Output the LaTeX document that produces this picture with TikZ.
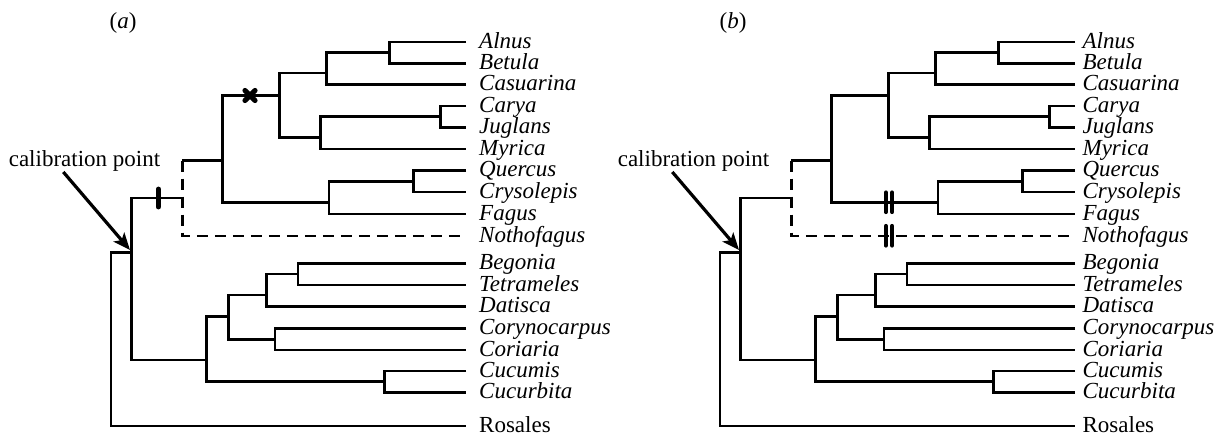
\documentclass[tikz,border=0pt]{standalone}
\usepackage{fontspec}
\setmainfont{Liberation Serif}
\usetikzlibrary{arrows.meta}

\tikzset{
  branch/.style={line width=1.4pt, line join=miter},
  lost/.style={branch, dash pattern=on 5.5pt off 3.5pt},
  taxon/.style={anchor=base west, inner sep=0pt, yshift=-3pt, xshift=6.4pt,
                font=\fontsize{11.5}{13}\selectfont\itshape},
  outgroup/.style={taxon, font=\fontsize{11.5}{13}\selectfont},
  caption/.style={anchor=base, inner sep=0pt, font=\fontsize{11.5}{13}\selectfont},
  pointer/.style={line width=1.6pt, -{Stealth[length=8.5pt, width=7pt, inset=2pt]}},
  bigbar/.style={line width=2.4pt, line cap=round},
  pairbar/.style={line width=2.1pt, line cap=round},
  crossmark/.style={line width=2.6pt, line cap=round},
}

% the common cladogram of Fagales and Cucurbitales, rooted with Rosales
\newcommand\cladetree{%
  % tips
  \coordinate (tAlnus)      at (466,42);
  \coordinate (tBetula)     at (466,63.5);
  \coordinate (tCasuarina)  at (466,84.5);
  \coordinate (tCarya)      at (466,106);
  \coordinate (tJuglans)    at (466,127.5);
  \coordinate (tMyrica)     at (466,149);
  \coordinate (tQuercus)    at (466,170.5);
  \coordinate (tCrysolepis) at (466,192);
  \coordinate (tFagus)      at (466,214);
  \coordinate (tNotho)      at (466,236);
  \coordinate (tBegonia)    at (466,263.5);
  \coordinate (tTetrameles) at (466,285);
  \coordinate (tDatisca)    at (466,306.5);
  \coordinate (tCoryno)     at (466,328.5);
  \coordinate (tCoriaria)   at (466,350);
  \coordinate (tCucumis)    at (466,371);
  \coordinate (tCucurbita)  at (466,392.5);
  \coordinate (tRosales)    at (466,426);
  % taxon names
  \node[taxon] (Alnus)      at (tAlnus) {Alnus};
  \node[taxon] (Betula)     at (tBetula) {Betula};
  \node[taxon] (Casuarina)  at (tCasuarina) {Casuarina};
  \node[taxon] (Carya)      at (tCarya) {Carya};
  \node[taxon] (Juglans)    at (tJuglans) {Juglans};
  \node[taxon] (Myrica)     at (tMyrica) {Myrica};
  \node[taxon] (Quercus)    at (tQuercus) {Quercus};
  \node[taxon] (Crysolepis) at (tCrysolepis) {Crysolepis};
  \node[taxon] (Fagus)      at (tFagus) {Fagus};
  \node[taxon] (Nothofagus) at (tNotho) {Nothofagus};
  \node[taxon] (Begonia)    at (tBegonia) {Begonia};
  \node[taxon] (Tetrameles) at (tTetrameles) {Tetrameles};
  \node[taxon] (Datisca)    at (tDatisca) {Datisca};
  \node[taxon] (Corynocarpus) at (tCoryno) {Corynocarpus};
  \node[taxon] (Coriaria)   at (tCoriaria) {Coriaria};
  \node[taxon] (Cucumis)    at (tCucumis) {Cucumis};
  \node[taxon] (Cucurbita)  at (tCucurbita) {Cucurbita};
  \node[outgroup] (Rosales) at (tRosales) {Rosales};
  % internal nodes (x = node age, y = where the parent branch joins)
  \coordinate (AB)     at (389.3,52.7);
  \coordinate (ABC)    at (326.7,73);
  \coordinate (CJ)     at (440.7,116.8);
  \coordinate (CJM)    at (320.7,137.8);
  \coordinate (core1)  at (279.3,95.5);
  \coordinate (QC)     at (413.3,181.2);
  \coordinate (QCF)    at (329,202.3);
  \coordinate (core2)  at (222.7,160.5);
  \coordinate (fagtop) at (182.3,160.5);
  \coordinate (fag)    at (182.3,198);
  \coordinate (BT)     at (298,274);
  \coordinate (BTD)    at (266.7,295);
  \coordinate (CC)     at (275,339.3);
  \coordinate (DG)     at (228.3,316.7);
  \coordinate (CU)     at (384.3,381.5);
  \coordinate (cucurb) at (206.7,360);
  \coordinate (crown)  at (131.7,252.3);
  \coordinate (root)   at (111,340);
  % Fagales
  \draw[branch] (tAlnus) -| (AB) |- (tBetula);
  \draw[branch] (AB) -| (ABC) |- (tCasuarina);
  \draw[branch] (tCarya) -| (CJ) |- (tJuglans);
  \draw[branch] (CJ) -| (CJM) |- (tMyrica);
  \draw[branch] (ABC) -| (core1) |- (CJM);
  \draw[branch] (tQuercus) -| (QC) |- (tCrysolepis);
  \draw[branch] (QC) -| (QCF) |- (tFagus);
  \draw[branch] (core1) -| (core2) |- (QCF);
  \draw[branch] (core2) -- (fagtop);
  \draw[lost] (fagtop) |- (tNotho);
  % Cucurbitales
  \draw[branch] (tBegonia) -| (BT) |- (tTetrameles);
  \draw[branch] (BT) -| (BTD) |- (tDatisca);
  \draw[branch] (tCoryno) -| (CC) |- (tCoriaria);
  \draw[branch] (BTD) -| (DG) |- (CC);
  \draw[branch] (tCucumis) -| (CU) |- (tCucurbita);
  \draw[branch] (DG) -| (cucurb) |- (CU);
  % crown and root
  \draw[branch] (fag) -| (crown) |- (cucurb);
  \draw[branch] (crown) -| (root) |- (tRosales);
  % calibration arrow
  \node[caption] (calib) at (84.5,166) {calibration point};
  \coordinate (arrowtail) at (63.3,172);
  \coordinate (arrowtip)  at (130,250);
  \draw[pointer] (arrowtail) -- (arrowtip);
}

\begin{document}
\begin{tikzpicture}[x=0.5pt, y=-0.5pt]
  \useasboundingbox (0,0) rectangle (1220,439);

  % panel (a)
  \begin{scope}[name prefix=a-]
    \node[caption] (panel) at (123,28) {(\textit{a})};
    \cladetree
    % stem bar and extinction cross
    \draw[bigbar] (158.3,189) -- (158.3,207);
    \draw[crossmark] (245,90.5) -- (255,100.5);
    \draw[crossmark] (245,100.5) -- (255,90.5);
  \end{scope}

  % panel (b)
  \begin{scope}[shift={(609,0)}, name prefix=b-, taxon/.append style={xshift=-2.8pt}]
    \node[caption] (panel) at (124,28) {(\textit{b})};
    \cladetree
    % paired bars on the Fagaceae and Nothofagus stems
    \foreach \bx in {276.8,283.2} {
      \draw[pairbar] (\bx,192.5) -- (\bx,212);
      \draw[pairbar] (\bx,226) -- (\bx,245.5);
    }
  \end{scope}
\end{tikzpicture}
\end{document}
